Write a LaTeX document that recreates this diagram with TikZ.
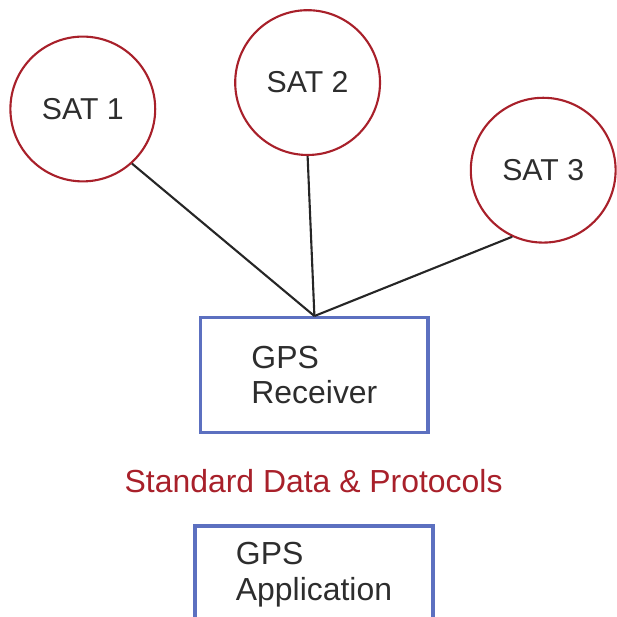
\documentclass[tikz,border=0pt]{standalone}
\usepackage{fontspec}
\setmainfont{Liberation Sans}
\definecolor{satred}{RGB}{168,32,42}
\definecolor{boxblue}{RGB}{92,112,192}
\definecolor{txtgray}{RGB}{45,45,45}
\begin{document}
\begin{tikzpicture}[
  sat/.style={draw=satred, line width=1.5pt, circle, minimum size=3.62cm, inner sep=0pt, text=txtgray},
  unit/.style={draw=boxblue, line width=2.2pt, rectangle, align=left, inner sep=0pt, text=txtgray,
    font=\fontsize{22.7}{25.5}\selectfont},
  link/.style={draw=black!85, line width=1.5pt}]
\useasboundingbox (0,0) rectangle (15.4,15.425);
\fontsize{21.5}{25}\selectfont

\node[sat] (s1) at (2.07,12.7) {SAT 1};
\node[sat] (s2) at (7.69,13.36) {SAT 2};
\node[sat] (s3) at (13.58,11.17) {SAT 3};

\node[unit, minimum width=5.68cm, minimum height=2.87cm] (rx) at (7.86,6.05) {GPS\\Receiver};
\node[unit, minimum width=5.95cm, minimum height=2.45cm] (app) at (7.85,1.05) {GPS\\Application};

\node[text=satred, anchor=base, font=\fontsize{22.7}{25}\selectfont] (std) at (7.84,3.1) {Standard Data \& Protocols};

\path[link] (s1.-48) -- (rx.north);
\path[link] (s2.south) -- (rx.north);
\path[link] (s3.245) -- (rx.north);
\end{tikzpicture}
\end{document}
